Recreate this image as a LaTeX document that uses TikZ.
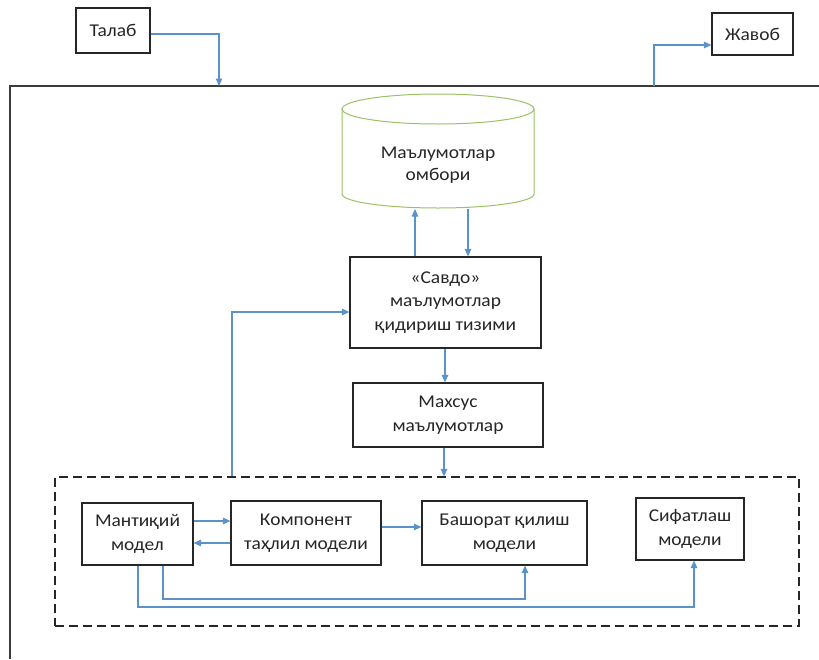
\documentclass[tikz,border=0pt]{standalone}
\usepackage{fontspec}
\setmainfont{Carlito}[FakeStretch=1.08]
\usetikzlibrary{arrows.meta,calc}
\definecolor{arrowblue}{HTML}{5B93C8}
\definecolor{dbgreen}{HTML}{9BC264}
\definecolor{ink}{HTML}{262626}
\begin{document}
\begin{tikzpicture}[x=1pt,y=-1pt,
  box/.style={draw=ink, line width=1.2pt, align=center, inner sep=0pt, font=\fontsize{18}{23.5}\selectfont, text=ink},
  lbl/.style={align=center, inner sep=0pt, font=\fontsize{18}{21.5}\selectfont, text=ink},
  arr/.style={draw=arrowblue, line width=1.2pt, -{Triangle[length=7.5pt,width=6.5pt]}},
  frame/.style={draw=ink!90, line width=1.3pt},
  grpbox/.style={draw=ink, line width=1.2pt, dash pattern=on 9pt off 5pt, inner sep=0pt}]
\useasboundingbox (0,0) rectangle (819,659);
\fill[white] (0,0) rectangle (819,659);

% outer frame
\draw[frame] (819,86) -- (10,86) -- (10,659);

% request / response
\node[box, minimum width=74pt, minimum height=45pt] (talab) at (113,30.5) {Талаб};
\node[box, minimum width=81pt, minimum height=42pt] (javob) at (752.5,34) {Жавоб};
\coordinate (in) at (219,86);
\coordinate (out) at (654,86);
\draw[arr] ([yshift=-3.5pt]talab.east) -| (in);
\draw[arr] (out) |- ([yshift=-11pt]javob.west);

% database cylinder
\draw[dbgreen, line width=1pt] (342,109) -- (342,194) arc[start angle=180, end angle=360, x radius=96pt, y radius=14pt] -- (534,109);
\draw[dbgreen, line width=1pt] (438,109) ellipse[x radius=96pt, y radius=15pt];
\node[lbl] (db) at (438,165) {Маълумотлар\\омбори};
\coordinate (dbup) at (415,209);
\coordinate (dbdn) at (468,209);

% search system
\node[box, minimum width=191pt, minimum height=91pt] (savdo) at (445.5,302.5) {«Савдо»\\маълумотлар\\қидириш тизими};
\draw[arr] (savdo.north -| dbup) -- (dbup);
\draw[arr] (dbdn) -- (savdo.north -| dbdn);

% special data
\node[box, minimum width=190pt, minimum height=64pt] (mahsus) at (448,415) {Махсус\\маълумотлар};
\coordinate (s1) at (445,0);
\draw[arr] (savdo.south -| s1) -- (mahsus.north -| s1);

% group of models
\node[grpbox, minimum width=744pt, minimum height=149pt] (grp) at (427,551.5) {};
\coordinate (s2) at (444,0);
\draw[arr] (mahsus.south -| s2) -- (grp.north -| s2);
\coordinate (fb) at (232,0);
\draw[arr] (grp.north -| fb) |- ([yshift=-9.5pt]savdo.west);

% models
\node[box, minimum width=111pt, minimum height=62pt] (mant) at (137.5,534) {Мантиқий\\модел};
\node[box, minimum width=150pt, minimum height=64pt] (komp) at (306,533) {Компонент\\таҳлил модели};
\node[box, minimum width=165pt, minimum height=64pt] (bash) at (504.5,533) {Башорат қилиш\\модели};
\node[box, minimum width=108pt, minimum height=62pt] (sif) at (690,529) {Сифатлаш\\модели};

\draw[arr] ([yshift=13pt]mant.east) -- ([yshift=13pt]mant.east -| komp.west);
\draw[arr] ([yshift=-10pt]komp.west) -- ([yshift=-10pt]komp.west -| mant.east);
\draw[arr] ([yshift=6pt]komp.east) -- ([yshift=6pt]komp.east -| bash.west);

\coordinate (r1) at (163,599);
\coordinate (r2) at (138,607);
\draw[arr] (mant.south -| r1) -- (r1) -| ([xshift=20.5pt]bash.south);
\draw[arr] (mant.south -| r2) -- (r2) -| ([xshift=4pt]sif.south);
\end{tikzpicture}
\end{document}
